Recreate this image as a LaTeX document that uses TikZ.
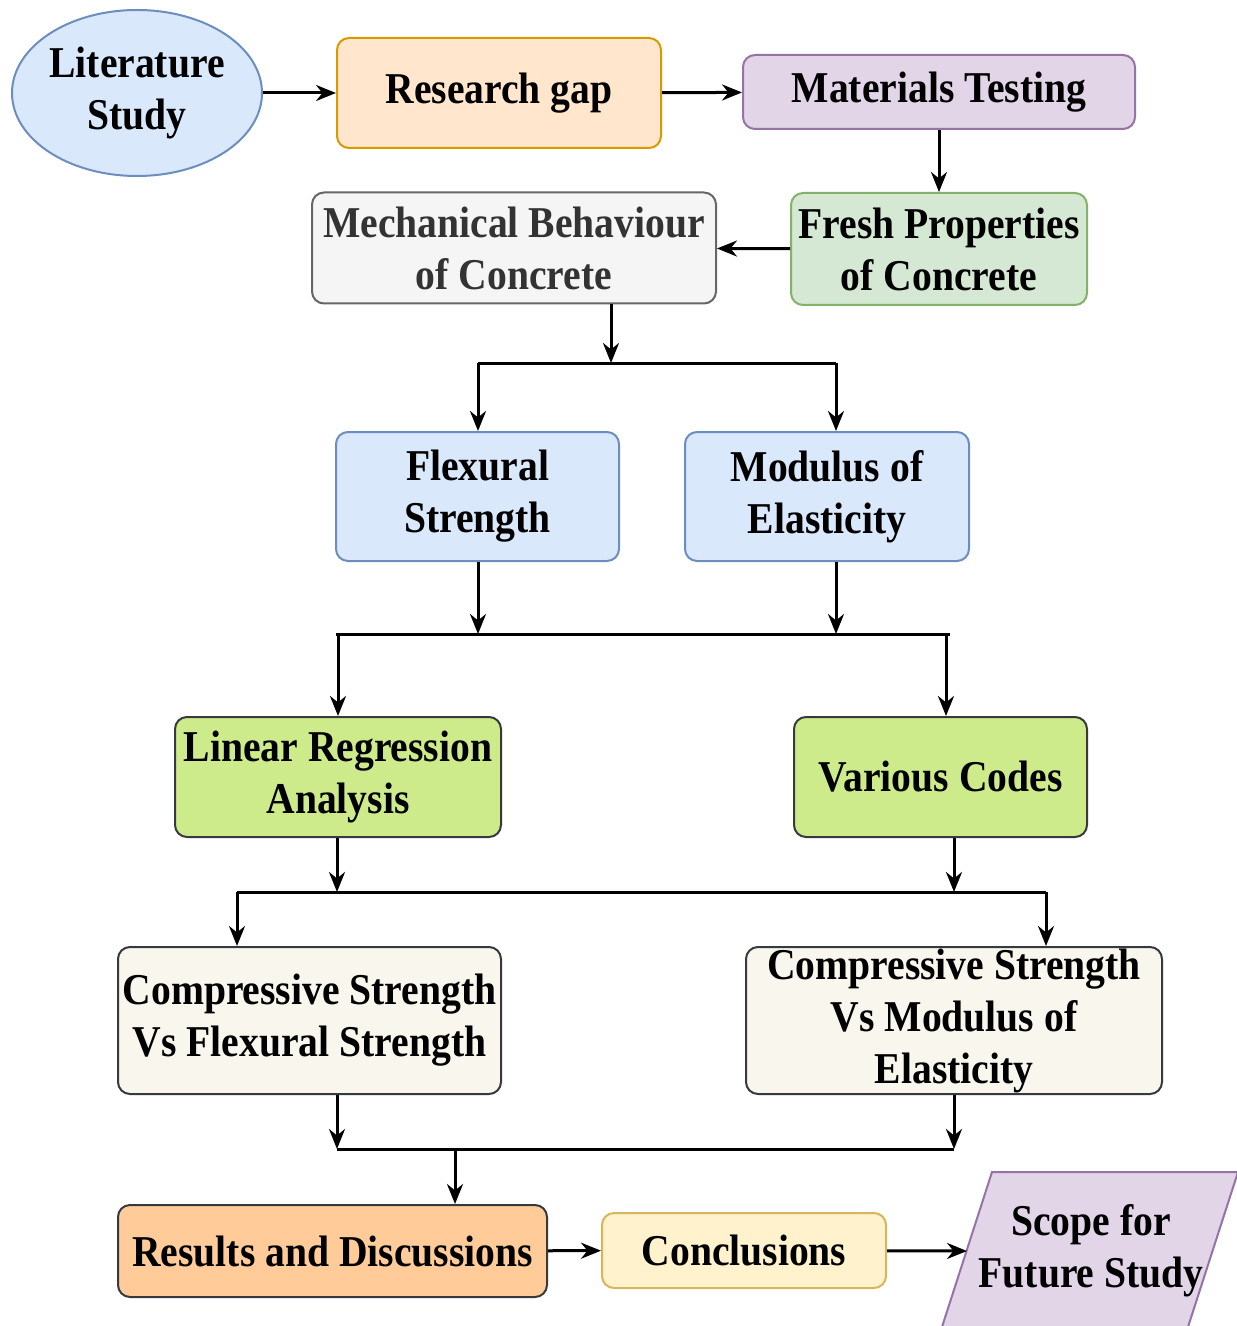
\documentclass[tikz,border=0pt]{standalone}
\usepackage{fontspec}
\setmainfont{Liberation Serif}[FakeStretch=0.9]
\usepackage{xcolor}
\usepackage{tikz}
\usetikzlibrary{positioning,shapes,arrows.meta}
\definecolor{blfill}{HTML}{DAE8FC}
\definecolor{bldraw}{HTML}{6C8EBF}
\definecolor{ogfill}{HTML}{FFE6CC}
\definecolor{ogdraw}{HTML}{D79B00}
\definecolor{pufill}{HTML}{E1D5E7}
\definecolor{pudraw}{HTML}{9673A6}
\definecolor{gnfill}{HTML}{D5E8D4}
\definecolor{gndraw}{HTML}{82B366}
\definecolor{gyfill}{HTML}{F5F5F5}
\definecolor{gydraw}{HTML}{666666}
\definecolor{gytext}{HTML}{333333}
\definecolor{lmfill}{HTML}{CDEB8B}
\definecolor{dkdraw}{HTML}{36393D}
\definecolor{crfill}{HTML}{F9F7ED}
\definecolor{pcfill}{HTML}{FFCC99}
\definecolor{ylfill}{HTML}{FFF2CC}
\definecolor{yldraw}{HTML}{D6B656}
\tikzstyle{bx}=[%
      rectangle, rounded corners=6pt, line width=1pt, align=center,
      inner sep=0pt, font=\bfseries\fontsize{22}{26}\selectfont
]
\tikzstyle{el}=[%
      ellipse, line width=1pt, align=center,
      inner sep=0pt, font=\bfseries\fontsize{22}{26}\selectfont
]
\tikzstyle{tx}=[%
      align=center, inner sep=0pt, font=\bfseries\fontsize{22}{26}\selectfont
]
\tikzstyle{bl}=[fill=blfill, draw=bldraw]
\tikzstyle{og}=[fill=ogfill, draw=ogdraw]
\tikzstyle{pu}=[fill=pufill, draw=pudraw]
\tikzstyle{gn}=[fill=gnfill, draw=gndraw]
\tikzstyle{gy}=[fill=gyfill, draw=gydraw, text=gytext]
\tikzstyle{lm}=[fill=lmfill, draw=dkdraw]
\tikzstyle{cr}=[fill=crfill, draw=dkdraw]
\tikzstyle{pc}=[fill=pcfill, draw=dkdraw]
\tikzstyle{yl}=[fill=ylfill, draw=yldraw]
\tikzstyle{ln}=[line width=1.5pt, black]
\tikzstyle{ar}=[ln, ->]

\begin{document}
\begin{tikzpicture}[x=0.5pt, y=-0.5pt,
    >={Stealth[length=10pt, width=8pt]}
  ]
    \useasboundingbox (0,0) rectangle (1236,1326);

    % top row
    \node[el, bl, minimum width=125pt, minimum height=83pt] (lit) at (137,93) {Literature\\Study};
    \node[bx, og, minimum width=162pt, minimum height=55pt] (gap) at (499,93) {Research gap};
    \node[bx, pu, minimum width=196pt, minimum height=37pt] (mat) at (939,92) {Materials Testing};
    \node[bx, gn, minimum width=148pt, minimum height=56pt] (fresh) at (939,249) {Fresh Properties\\of Concrete};
    \node[bx, gy, minimum width=202pt, minimum height=55.5pt] (mech) at (514,248) {Mechanical Behaviour\\of Concrete};

    % tests
    \node[bx, bl, minimum width=141.5pt, minimum height=64.5pt] (flex) at (477.5,496.5) {Flexural\\Strength};
    \node[bx, bl, minimum width=142pt, minimum height=64.5pt] (mod) at (827,496.5) {Modulus of\\Elasticity};

    % analysis
    \node[bx, lm, minimum width=163pt, minimum height=60pt] (lin) at (338,777) {Linear Regression\\Analysis};
    \node[bx, lm, minimum width=146.5pt, minimum height=60pt] (codes) at (940.5,777) {Various Codes};
    \node[bx, cr, minimum width=191.5pt, minimum height=73.5pt] (cvf) at (309.5,1020.5) {Compressive Strength\\Vs Flexural Strength};
    \node[bx, cr, minimum width=208pt, minimum height=73.5pt] (cvm) at (954,1020.5) {Compressive Strength\\Vs Modulus of\\Elasticity};

    % bottom row
    \node[bx, pc, minimum width=214.5pt, minimum height=46pt] (res) at (332.5,1251) {Results and Discussions};
    \node[bx, yl, minimum width=142pt, minimum height=37.5pt] (conc) at (744,1250.5) {Conclusions};
    \draw[pu, line width=1pt] (992,1172) -- (1238,1172) -- (1187,1330) -- (941,1330) -- cycle;
    \node[tx] (scope) at (1091,1251) {Scope for\\Future Study};
    \coordinate (scl) at (967,1251);

    % bars
    \coordinate (b1l) at (478,363);  \coordinate (b1m) at (611,363);  \coordinate (b1r) at (836,363);
    \coordinate (b2l) at (338,634);  \coordinate (b2r) at (946,634);
    \coordinate (b3l) at (237,892);  \coordinate (b3r) at (1046,892);
    \coordinate (b4l) at (337,1149); \coordinate (b4m) at (455,1149); \coordinate (b4r) at (954,1149);
    \draw[ln] (b1l) -- (b1r);
    \draw[ln] (336,634) -- (950,634);
    \draw[ln] (b3l) -- (b3r);
    \draw[ln] (b4l) -- (b4r);

    \draw[ar] (lit) -- (gap);
    \draw[ar] (gap) -- (mat);
    \draw[ar] (mat.south -| fresh.north) -- (fresh.north);
    \draw[ar] (fresh) -- (mech);
    \draw[ar] (mech.south -| b1m) -- (b1m);
    \draw[ar] (b1l) -- (b1l |- flex.north);
    \draw[ar] (b1r) -- (b1r |- mod.north);
    \draw[ar] (flex.south -| b1l) -- (b1l |- b2l);
    \draw[ar] (mod.south -| b1r) -- (b1r |- b2l);
    \draw[ar] (b2l) -- (b2l |- lin.north);
    \draw[ar] (b2r) -- (b2r |- codes.north);
    \draw[ar] (lin.south -| b4l) -- (b4l |- b3l);
    \draw[ar] (cvm.south |- codes.south) -- (b4r |- b3l);
    \draw[ar] (b3l) -- (b3l |- cvf.north);
    \draw[ar] (b3r) -- (b3r |- cvm.north);
    \draw[ar] (cvf.south -| b4l) -- (b4l);
    \draw[ar] (cvm.south -| b4r) -- (b4r);
    \draw[ar] (b4m) -- (b4m |- res.north);
    \draw[ar] (res) -- (conc);
    \draw[ar] (conc) -- (scl);

  \end{tikzpicture}
\end{document}
